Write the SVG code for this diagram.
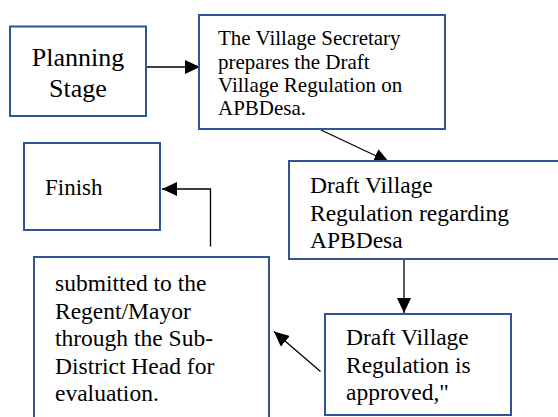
<svg xmlns="http://www.w3.org/2000/svg" width="558" height="417" viewBox="0 0 558 417">
<style>
.box{fill:#fff;stroke:#2F5597;stroke-width:2}
.c{fill:none;stroke:#000;stroke-width:1.3}
</style>
<defs>
<marker id="ah" markerUnits="userSpaceOnUse" markerWidth="15" markerHeight="14" refX="15" refY="7" orient="auto">
<path d="M0,0 L15,7 L0,14 z" fill="#000"/>
</marker>
</defs>
<rect width="558" height="417" fill="#fff"/>
<g id="connectors">
<line class="c" x1="147" y1="67" x2="200" y2="67" marker-end="url(#ah)"/>
<line class="c" x1="321" y1="130" x2="389" y2="162" marker-end="url(#ah)"/>
<line class="c" x1="404" y1="260" x2="404" y2="313" marker-end="url(#ah)"/>
<line class="c" x1="320.5" y1="371.5" x2="274" y2="331.5" marker-end="url(#ah)"/>
<polyline class="c" points="210.5,246.5 210.5,189 162,189" marker-end="url(#ah)"/>
</g>
<g font-family="'Liberation Serif', 'DejaVu Serif', serif" fill="#000">
<g id="planning">
<rect class="box" x="10" y="26.5" width="136" height="89.5"/>
<text font-size="26" text-anchor="middle"><tspan x="78" y="66">Planning</tspan><tspan x="78" y="97">Stage</tspan></text>
</g>
<g id="secretary">
<rect class="box" x="199" y="15" width="246" height="114"/>
<text font-size="21"><tspan x="218" y="45">The Village Secretary</tspan><tspan x="218" y="68.5">prepares the Draft</tspan><tspan x="218" y="92">Village Regulation on</tspan><tspan x="218" y="115">APBDesa.</tspan></text>
</g>
<g id="regarding">
<rect class="box" x="289" y="161" width="290" height="98"/>
<text font-size="23.5"><tspan x="310" y="193">Draft Village</tspan><tspan x="310" y="220.5">Regulation regarding</tspan><tspan x="310" y="248">APBDesa</tspan></text>
</g>
<g id="finish">
<rect class="box" x="24" y="143" width="136" height="87"/>
<text font-size="23"><tspan x="45" y="195">Finish</tspan></text>
</g>
<g id="submitted">
<rect class="box" x="34" y="257" width="235" height="200"/>
<text font-size="23.5"><tspan x="55" y="291">submitted to the</tspan><tspan x="55" y="318.5">Regent/Mayor</tspan><tspan x="55" y="346">through the Sub-</tspan><tspan x="55" y="373.5">District Head for</tspan><tspan x="55" y="401">evaluation.</tspan></text>
</g>
<g id="approved">
<rect class="box" x="325" y="314" width="186" height="101"/>
<text font-size="23.5"><tspan x="346" y="345">Draft Village</tspan><tspan x="346" y="372.5">Regulation is</tspan><tspan x="346" y="400">approved,"</tspan></text>
</g>
</g>
</svg>
